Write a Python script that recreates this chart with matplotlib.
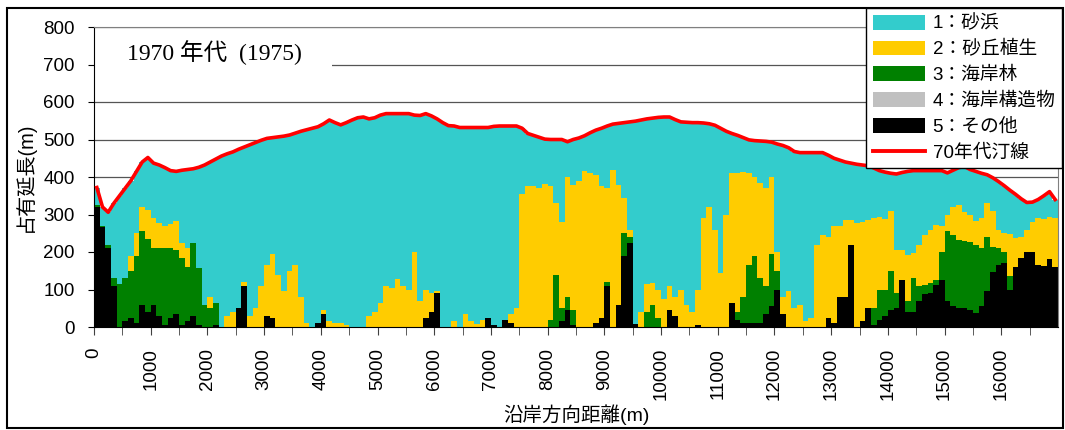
import numpy as np
import matplotlib
matplotlib.use('Agg')
import matplotlib.pyplot as plt
from matplotlib.patches import Patch, Rectangle
from matplotlib.lines import Line2D

plt.rcParams['font.family'] = ['Liberation Sans', 'Noto Sans CJK JP']

# 100m毎の区間 (0-17000m)
kyori = np.arange(0, 17000, 100)

# 5:その他 (高さ)
sonota = [
    320, 268, 210, 110, 0, 15, 25, 12, 60, 40,
    60, 30, 5, 25, 35, 5, 15, 30, 5, 0,
    0, 5, 0, 0, 0, 50, 110, 0, 0, 0,
    30, 25, 0, 0, 0, 0, 0, 0, 0, 10,
    35, 0, 0, 0, 0, 0, 0, 0, 0, 0,
    0, 0, 0, 0, 0, 0, 0, 0, 25, 40,
    90, 0, 0, 0, 0, 0, 0, 0, 0, 25,
    5, 0, 20, 10, 0, 0, 0, 0, 0, 0,
    0, 0, 15, 45, 5, 0, 0, 0, 10, 25,
    110, 0, 60, 190, 225, 8, 0, 0, 0, 0,
    0, 45, 30, 0, 0, 0, 5, 0, 0, 0,
    0, 0, 65, 20, 12, 12, 12, 12, 36, 55,
    100, 36, 0, 0, 0, 0, 0, 0, 0, 25,
    12, 80, 80, 220, 0, 15, 50, 5, 20, 30,
    45, 50, 125, 40, 41, 70, 88, 92, 112, 125,
    70, 55, 50, 50, 45, 38, 55, 95, 148, 165,
    170, 100, 160, 185, 200, 200, 165, 163, 182, 160,
]

# 4:海岸構造物 (高さ) 見当たらず
kozobutsu = [0] * len(sonota)

# 3:海岸林 上端
kaiganrin_top = [
    325, 270, 220, 130, 116, 130, 150, 190, 255, 235,
    212, 212, 210, 212, 205, 185, 160, 225, 158, 60,
    50, 65, 0, 0, 0, 0, 0, 0, 0, 0,
    0, 0, 0, 0, 0, 0, 0, 0, 0, 0,
    0, 0, 0, 0, 0, 0, 0, 0, 0, 0,
    0, 0, 0, 0, 0, 0, 0, 0, 0, 0,
    0, 0, 0, 0, 0, 0, 0, 0, 0, 0,
    0, 0, 0, 0, 0, 0, 0, 0, 0, 0,
    20, 140, 50, 80, 45, 0, 0, 0, 0, 0,
    120, 0, 0, 250, 240, 0, 0, 40, 60, 25,
    0, 0, 0, 0, 0, 0, 0, 0, 0, 0,
    0, 0, 0, 40, 80, 165, 190, 130, 110, 195,
    150, 36, 0, 0, 0, 0, 0, 0, 0, 0,
    0, 0, 0, 0, 0, 0, 0, 50, 100, 100,
    150, 90, 125, 70, 130, 110, 112, 118, 125, 200,
    255, 245, 232, 230, 228, 218, 212, 240, 214, 210,
    200, 135, 0, 0, 0, 0, 0, 0, 0, 0,
]

# 2:砂丘植生 上端
sakyu_top = [
    0, 0, 0, 0, 0, 0, 190, 250, 320, 312,
    290, 278, 270, 275, 282, 225, 212, 225, 0, 0,
    80, 0, 0, 30, 40, 0, 120, 30, 50, 110,
    165, 195, 140, 95, 150, 165, 80, 10, 0, 10,
    45, 15, 10, 10, 5, 0, 0, 0, 30, 40,
    65, 110, 105, 128, 110, 100, 200, 70, 100, 90,
    95, 0, 0, 15, 0, 35, 15, 8, 20, 0,
    0, 0, 0, 35, 50, 355, 375, 375, 370, 382,
    375, 330, 280, 400, 380, 390, 416, 410, 405, 375,
    370, 420, 380, 345, 260, 0, 40, 115, 118, 100,
    74, 110, 80, 100, 60, 40, 100, 290, 320, 260,
    145, 300, 412, 410, 413, 412, 400, 385, 370, 400,
    200, 80, 95, 50, 60, 15, 25, 220, 245, 240,
    270, 270, 285, 285, 277, 279, 286, 290, 293, 288,
    310, 205, 205, 192, 198, 220, 245, 258, 272, 270,
    300, 320, 325, 308, 300, 283, 290, 330, 310, 258,
    252, 248, 238, 240, 258, 280, 290, 289, 293, 290,
]

# 70年代汀線 (砂浜上端)
teisen70 = [
    372, 320, 306, 330, 350, 370, 390, 415, 440, 452,
    437, 432, 425, 417, 415, 418, 420, 422, 426, 432,
    440, 448, 456, 462, 467, 474, 480, 486, 492, 498,
    503, 505, 507, 509, 512, 517, 522, 526, 530, 534,
    542, 552, 545, 539, 545, 552, 558, 560, 555, 558,
    565, 569, 569, 569, 569, 569, 565, 564, 569, 563,
    555, 545, 537, 536, 532, 532, 532, 532, 532, 532,
    535, 536, 536, 536, 536, 530, 516, 511, 506, 501,
    500, 500, 500, 494, 500, 504, 510, 518, 525, 530,
    536, 541, 543, 545, 547, 549, 552, 555, 557, 559,
    560, 560, 553, 547, 546, 545, 545, 544, 542, 538,
    530, 522, 516, 511, 505, 499, 497, 496, 495, 493,
    488, 484, 478, 468, 465, 465, 465, 465, 465, 458,
    450, 445, 440, 437, 434, 432, 430, 424, 417, 413,
    410, 408, 412, 415, 417, 417, 417, 417, 417, 417,
    411, 418, 425, 428, 420, 415, 410, 406, 398, 388,
    377, 365, 354, 342, 332, 333, 340, 350, 361, 340,
]

labels = ['1：砂浜', '2：砂丘植生', '3：海岸林', '4：海岸構造物', '5：その他', '70年代汀線']
colors = ['#33CCCC', '#FFCC00', '#008000', '#C0C0C0', '#000000']

# 積み上げ高さに変換
h5 = np.array(sonota, dtype=float)
h4 = np.array(kozobutsu, dtype=float)
top4 = h5 + h4
top3 = np.maximum(np.array(kaiganrin_top, dtype=float), top4)
top2 = np.maximum(np.array(sakyu_top, dtype=float), top3)
top1 = np.maximum(np.array(teisen70, dtype=float), top2)
h3 = top3 - top4
h2 = top2 - top3
h1 = top1 - top2

fig = plt.figure(figsize=(10.65, 4.3), dpi=100)
ax = fig.add_axes([94 / 1065, 1 - 327 / 430, 964 / 1065, 300 / 430])

kw = dict(width=100, align='edge', linewidth=0, antialiased=False, zorder=1)
ax.bar(kyori, h5, color=colors[4], **kw)
ax.bar(kyori, h4, bottom=h5, color=colors[3], **kw)
ax.bar(kyori, h3, bottom=top4, color=colors[2], **kw)
ax.bar(kyori, h2, bottom=top3, color=colors[1], **kw)
ax.bar(kyori, h1, bottom=top2, color=colors[0], **kw)
ax.plot(kyori + 50, teisen70, color='#FF0000', lw=2.6, zorder=3)

ax.set_xlim(0, 17000)
ax.set_ylim(0, 800)
ax.set_yticks(range(0, 801, 100))
ax.set_xticks(range(0, 17000, 1000))
ax.set_xticks(range(500, 17000, 1000), minor=True)
ax.tick_params(axis='x', which='both', direction='out', length=6, color='#404040',
               labelrotation=90, labelsize=13.5, pad=9)
ax.tick_params(axis='y', direction='out', length=4, labelsize=13.5, pad=10)
ax.yaxis.grid(True, color='#555555', lw=0.9)
ax.set_axisbelow(True)

for s in ['top', 'right']:
    ax.spines[s].set_color('#808080')
for s in ['left', 'bottom']:
    ax.spines[s].set_color('black')

ax.set_xlabel('沿岸方向距離(m)', fontsize=14, labelpad=3)
ax.set_ylabel('占有延長(m)', fontsize=14.5, labelpad=6)

# タイトル部分 (目盛線を白で隠す)
ax.add_patch(Rectangle((0, 665), 4200, 130, facecolor='white', edgecolor='none', zorder=2))
ax.text(582, 733, '1970 年代  (1975)', family=['Liberation Serif', 'Noto Sans CJK JP'],
        fontsize=17, va='center', ha='left', zorder=3)

handles = [Patch(facecolor=c) for c in colors]
handles.append(Line2D([], [], color='#FF0000', lw=2.8))
leg = fig.legend(handles, labels, loc='upper right', bbox_to_anchor=(1062 / 1065, 1 - 8 / 430),
                 frameon=True, fancybox=False, edgecolor='black', framealpha=1,
                 fontsize=13.5, handlelength=2.8, handleheight=0.85, labelspacing=0.42,
                 handletextpad=0.4, borderpad=0.35, borderaxespad=0)
leg.get_frame().set_linewidth(1.0)

# 外枠
fig.add_artist(Rectangle((7 / 1065, 2 / 430), 1056 / 1065, 420 / 430, transform=fig.transFigure,
                         fill=False, edgecolor='black', lw=1.5))

fig.savefig('out.png', dpi=100)
